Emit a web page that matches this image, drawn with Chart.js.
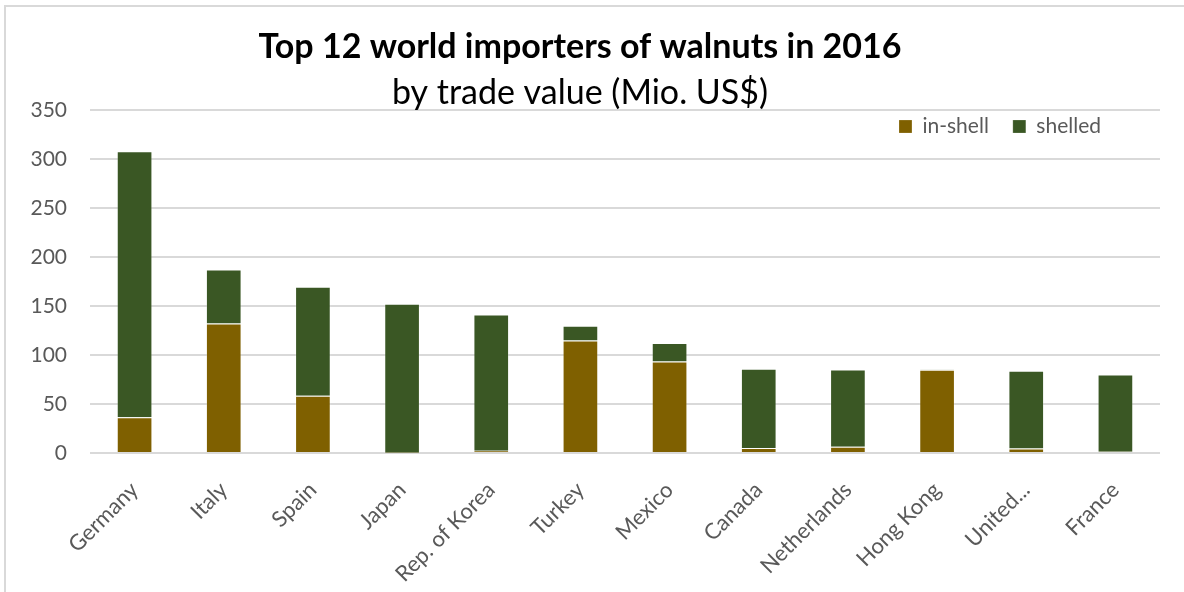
<!DOCTYPE html>
<html>
<head>
<meta charset="utf-8">
<script src="https://cdn.jsdelivr.net/npm/chart.js@4/dist/chart.umd.min.js"></script>
<style>
  html, body { margin: 0; padding: 0; background: #fff; }
  #wrap { width: 1184px; height: 592px; position: relative; }
</style>
</head>
<body>
<div id="wrap"><canvas id="c" width="1184" height="592"></canvas></div>
<script>
const categories = ["Germany", "Italy", "Spain", "Japan", "Rep. of Korea", "Turkey", "Mexico", "Canada", "Netherlands", "Hong Kong", "United...", "France"];
const inShell = [36.4, 132.2, 58.3, 0.3, 2.3, 114.7, 93.4, 5.2, 6.4, 85.0, 4.7, 1.3];
const shelledTotal = [308.0, 187.2, 169.6, 152.4, 141.3, 129.9, 112.3, 86.0, 85.3, 85.3, 84.0, 80.0];
const shelled = shelledTotal.map((t, i) => +(t - inShell[i]).toFixed(1));
const yTicks = [0, 50, 100, 150, 200, 250, 300, 350];

const FONT = "Lato, 'Open Sans', sans-serif";
const LEGEND_PAD = 24;

const borderPlugin = {
  id: 'outerBorder',
  beforeDraw(chart) {
    const ctx = chart.ctx;
    ctx.save();
    ctx.fillStyle = '#fff';
    ctx.fillRect(0, 0, chart.width, chart.height);
    ctx.strokeStyle = '#D9D9D9';
    ctx.lineWidth = 2;
    ctx.beginPath();
    ctx.moveTo(5, chart.height);
    ctx.lineTo(5, 6);
    ctx.lineTo(chart.width, 6);
    ctx.stroke();
    ctx.restore();
  }
};

// Let the legend float inside the plot area (top-right) without taking layout space
const legendOverlay = {
  id: 'legendOverlay',
  beforeLayout(chart) {
    const lg = chart.legend;
    if (lg && !lg._overlayPatched) {
      const origFit = lg.fit.bind(lg);
      lg.fit = function () { origFit(); this._realHeight = this.height; this.height = 0; };
      lg._overlayPatched = true;
    }
  },
  afterLayout(chart) {
    const lg = chart.legend;
    if (!lg) return;
    const h = lg._realHeight || 0;
    lg.top = 106 - (LEGEND_PAD - 10);
    lg.height = h;
    lg.bottom = lg.top + h;
    lg.right = 1101 + LEGEND_PAD;
    lg.left = 700;
    lg.width = lg.right - lg.left;
  }
};

new Chart(document.getElementById('c'), {
  type: 'bar',
  data: {
    labels: categories,
    datasets: [
      { label: 'in-shell', data: inShell, backgroundColor: '#7F6000', borderColor: 'rgba(255,255,255,0.2)', borderWidth: 1, barPercentage: 0.4, categoryPercentage: 1 },
      { label: 'shelled', data: shelled, backgroundColor: '#3A5724', borderColor: 'rgba(255,255,255,0.2)', borderWidth: 1, barPercentage: 0.4, categoryPercentage: 1 }
    ]
  },
  options: {
    responsive: false,
    animation: false,
    devicePixelRatio: 1,
    layout: { padding: { left: 0, right: 24, top: 0, bottom: 0 } },
    plugins: {
      title: {
        display: true,
        text: 'Top 12 world importers of walnuts in 2016',
        color: '#000',
        font: { family: FONT, size: 34, weight: 'bold', lineHeight: 1.0 },
        padding: { top: 30, bottom: 0 }
      },
      subtitle: {
        display: true,
        text: 'by trade value (Mio. US$)',
        color: '#000',
        font: { family: FONT, size: 34, weight: 'normal', lineHeight: 1.0 },
        padding: { top: 12, bottom: 0 }
      },
      legend: {
        position: 'top',
        align: 'end',
        labels: {
          color: '#595959',
          font: { family: FONT, size: 21 },
          boxWidth: 13,
          boxHeight: 13,
          padding: LEGEND_PAD
        }
      },
      tooltip: { enabled: false }
    },
    scales: {
      x: {
        stacked: true,
        grid: { display: false },
        border: { display: false },
        ticks: {
          color: '#595959',
          font: { family: FONT, size: 22 },
          minRotation: 45,
          maxRotation: 45,
          padding: 16
        },
        afterFit(scale) { scale.height = 139; }
      },
      y: {
        stacked: true,
        min: 0,
        max: 350,
        afterBuildTicks(scale) { scale.ticks = yTicks.map(v => ({ value: v })); },
        grid: { color: '#D9D9D9', lineWidth: 2, drawTicks: false },
        border: { display: false },
        ticks: {
          color: '#595959',
          font: { family: FONT, size: 21 },
          padding: 23
        },
        afterFit(scale) { scale.width = 90; }
      }
    }
  },
  plugins: [borderPlugin, legendOverlay]
});
</script>
</body>
</html>
